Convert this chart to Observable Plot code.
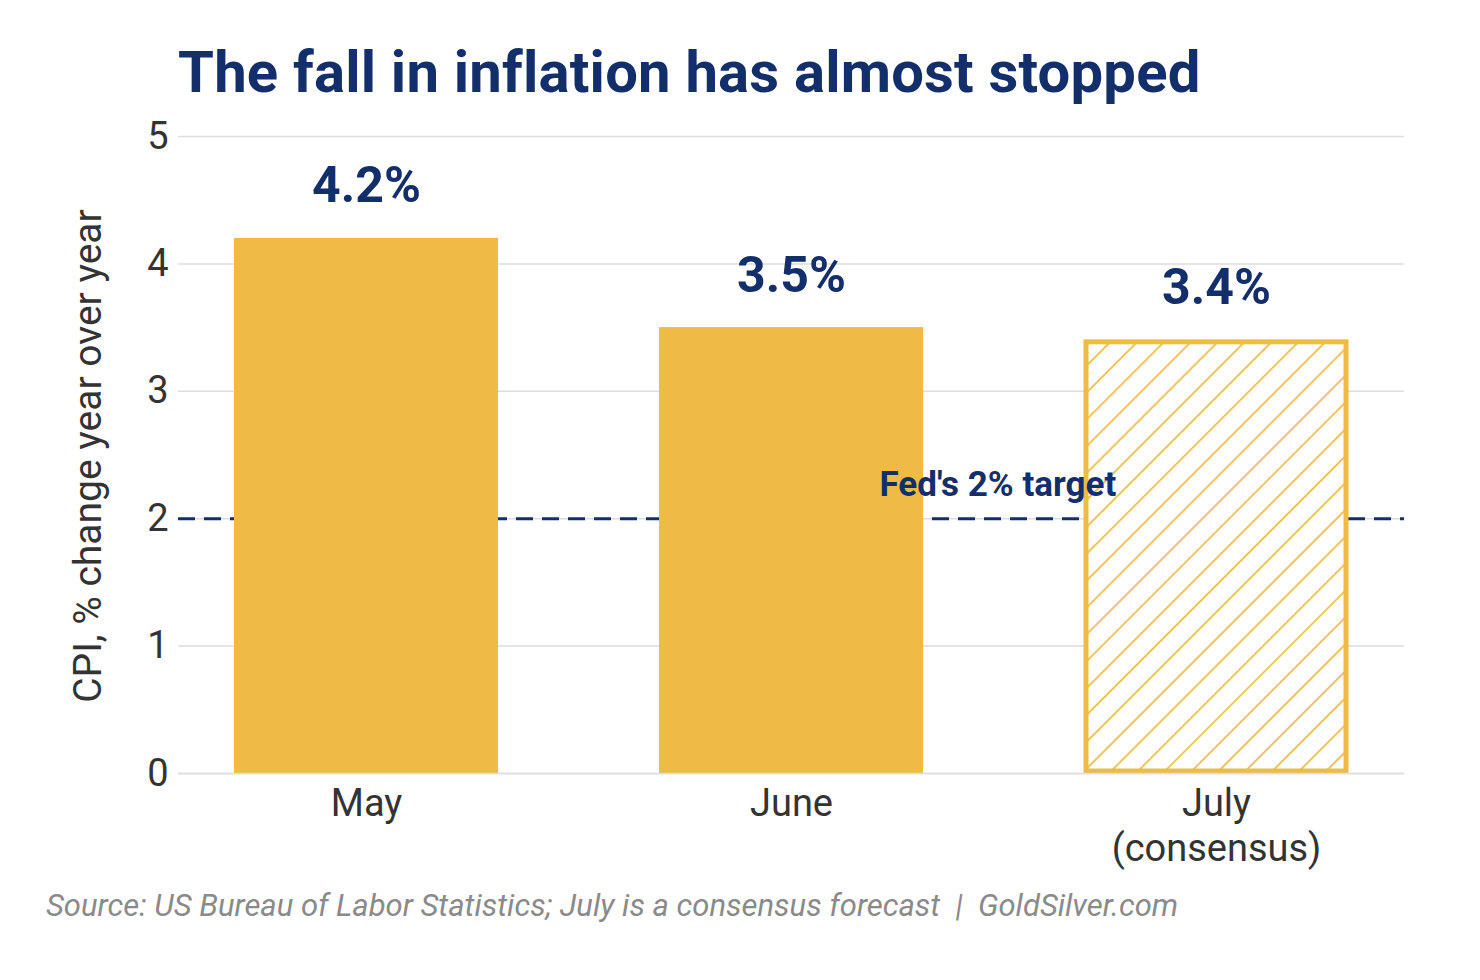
<!DOCTYPE html>
<html><head><meta charset="utf-8">
<script src="https://cdn.jsdelivr.net/npm/d3@7"></script>
<script src="https://cdn.jsdelivr.net/npm/@observablehq/plot@0.6"></script>
<style>
body{margin:0;background:#fff;font-family:Roboto,sans-serif;}
#wrap{position:relative;width:1480px;height:980px;}
#title{position:absolute;left:178px;top:38px;font-size:58px;font-weight:700;color:#132f6b;letter-spacing:0.2px;}
#ylab{position:absolute;left:88px;top:456px;transform:translate(-50%,-50%) rotate(-90deg);font-size:39px;color:#333;white-space:nowrap;}
#cap{position:absolute;left:46px;top:887px;font-size:31px;font-style:italic;color:#8a8a8a;}
#chart{position:absolute;left:0;top:0;}
</style></head><body>
<div id="wrap">
<div id="title">The fall in inflation has almost stopped</div>
<div id="chart"></div>
<div id="ylab">CPI, % change year over year</div>
<div id="cap">Source: US Bureau of Labor Statistics; July is a consensus forecast &nbsp;|&nbsp; GoldSilver.com</div>
</div>
<script>
const months = ["May","June","July"];
const monthLabels = ["May","June","July\n(consensus)"];
const cpi = [4.2,3.5,3.4];
const forecast = [false,false,true];
const yTicks = [0,1,2,3,4,5];
const fedTarget = 2;
const data = months.map((m,i)=>({month:m,value:cpi[i],forecast:forecast[i]}));
const navy="#132f6b", gold="#f0bb45";
const chart = Plot.plot({
  width:1480,height:880,marginTop:136,marginBottom:107,marginLeft:178,marginRight:76,
  style:{fontFamily:"Roboto, sans-serif",background:"transparent"},
  x:{domain:months,paddingInner:0.38,paddingOuter:0.129,label:null},
  y:{domain:[0,5],label:null},
  marks:[
    Plot.gridY(yTicks,{stroke:"#ddd",strokeOpacity:1,strokeWidth:1.5}),
    Plot.ruleY([fedTarget],{stroke:navy,strokeWidth:3,strokeDasharray:"17,9"}),
    Plot.barY(data.filter(d=>!d.forecast),{x:"month",y:"value",fill:gold}),
    Plot.barY(data.filter(d=>d.forecast),{x:"month",y:"value",fill:"url(#hatch)",stroke:gold,strokeWidth:5,inset:2}),
    Plot.ruleY([0],{stroke:"#ddd",strokeWidth:1.5}),
    Plot.text(data,{x:"month",y:"value",text:d=>d.value.toFixed(1)+"%",dy:-52,fontSize:50,fontWeight:700,fill:navy}),
    Plot.text([fedTarget],{x:()=> "June",y:d=>d,text:()=>"Fed's 2% target",dx:88,dy:-34,textAnchor:"start",fontSize:35,fontWeight:700,fill:navy}),
    Plot.axisY(yTicks,{tickSize:0,tickPadding:10,fontSize:38,fill:"#333",label:null,tickFormat:d=>String(d)}),
    Plot.axisX({tickSize:0,tickPadding:10,fontSize:38,fill:"#333",label:null,tickFormat:m=>monthLabels[months.indexOf(m)],lineHeight:1.2})
  ]
});
const ns="http://www.w3.org/2000/svg";
const defs=document.createElementNS(ns,"defs");
defs.innerHTML=`<pattern id="hatch" patternUnits="userSpaceOnUse" width="19" height="19" patternTransform="rotate(45)"><rect width="19" height="19" fill="#fff"/><line x1="0" y1="0" x2="0" y2="19" stroke="${gold}" stroke-width="3.5"/></pattern>`;
chart.insertBefore(defs,chart.firstChild);
document.getElementById("chart").appendChild(chart);
</script>
</body></html>
